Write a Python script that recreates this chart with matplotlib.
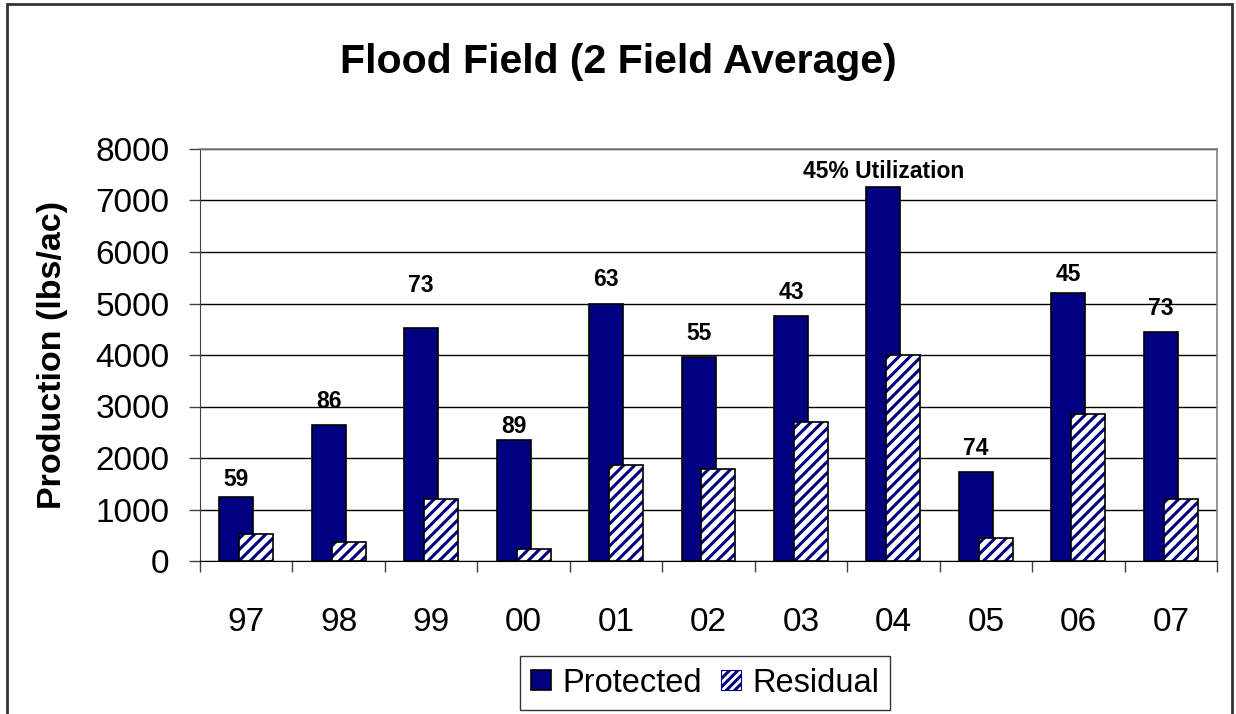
import matplotlib
matplotlib.use("Agg")
import matplotlib.pyplot as plt
import numpy as np
from matplotlib.patches import Rectangle

# ---- data ----
years = ["97", "98", "99", "00", "01", "02", "03", "04", "05", "06", "07"]
protected = [1240, 2650, 4520, 2345, 5000, 3960, 4760, 7270, 1720, 5210, 4445]
residual = [520, 375, 1205, 240, 1860, 1790, 2690, 4000, 440, 2855, 1205]
bar_labels = ["59", "86", "73", "89", "63", "55", "43", "45% Utilization", "74", "45", "73"]
title = "Flood Field (2 Field Average)"
ylabel = "Production (lbs/ac)"
yticks = [0, 1000, 2000, 3000, 4000, 5000, 6000, 7000, 8000]

plt.rcParams['font.family'] = ['Liberation Sans', 'DejaVu Sans']
plt.rcParams['hatch.linewidth'] = 2.2

W, H = 1236, 714
fig = plt.figure(figsize=(W / 100, H / 100), dpi=100)
ax = fig.add_axes([200 / W, (H - 561) / H, (1217 - 200) / W, (561 - 149) / H])

navy = '#000080'
x = np.arange(len(years))
bw = 0.368
off = 0.108
ax.set_axisbelow(True)
ax.yaxis.grid(True, color='black', linewidth=1.0)
bp = ax.bar(x - off, protected, width=bw, color=navy, edgecolor='black', linewidth=1.2,
            label='Protected', zorder=2)
# hatch in navy (hatch colour follows edgecolor), then black outline on top
ax.bar(x + off, residual, width=bw, color='white', edgecolor=navy, linewidth=0,
       hatch='///', zorder=3)
ax.bar(x + off, residual, width=bw, fill=False, edgecolor='black', linewidth=1.2, zorder=4)
br_handle = Rectangle((0, 0), 1, 1, facecolor='white', edgecolor=navy, hatch='////', linewidth=0.8)

# label offsets (pixels above bar top, to label centre)
label_off_px = [18, 23, 43, 14, 24, 24, 23, 15, 24, 18, 24]
for i, (v, lab) in enumerate(zip(protected, bar_labels)):
    ax.annotate(lab, xy=(x[i] - off, v), xytext=(0, label_off_px[i] * 0.72),
                textcoords='offset points', ha='center', va='center',
                fontsize=16.5, fontweight='bold', zorder=5)

ax.set_xlim(-0.5, len(years) - 0.5)
ax.set_ylim(0, 8000)
ax.set_yticks(yticks)
ax.set_yticklabels([str(t) for t in yticks], fontsize=24)
ax.tick_params(axis='y', direction='out', length=8, width=1, pad=14, color='#404040')

ax.set_xticks(np.arange(-0.5, len(years), 1.0))
ax.set_xticklabels([])
ax.set_xticks(x, minor=True)
ax.set_xticklabels(years, minor=True, fontsize=24)
ax.tick_params(axis='x', which='major', direction='out', length=8, width=1, color='#404040')
ax.tick_params(axis='x', which='minor', length=0, pad=33)

for s in ['top', 'right']:
    ax.spines[s].set_color('#808080')
    ax.spines[s].set_linewidth(1.2)
ax.spines['left'].set_color('#404040')
ax.spines['bottom'].set_color('black')

ax.set_ylabel(ylabel, fontsize=24.5, fontweight='bold', labelpad=20)

fig.text(0.5 + 0.0, (H - 62) / H, title, ha='center', va='center', fontsize=29.5, fontweight='bold')

leg = fig.legend(handles=[bp, br_handle], labels=['Protected', 'Residual'], loc='lower center',
                 bbox_to_anchor=(705 / W, 4 / H), ncol=2, fontsize=23.5, frameon=True,
                 fancybox=False, edgecolor='black', handlelength=0.6, handleheight=0.6,
                 handletextpad=0.35, columnspacing=0.6, borderpad=0.35, borderaxespad=0)
leg.get_frame().set_linewidth(1.0)

fig.patches.append(Rectangle((7 / W, -0.05), (1232 - 7) / W, (H - 4) / H + 0.05,
                             transform=fig.transFigure, fill=False, edgecolor='#333333',
                             linewidth=2, clip_on=False))

fig.savefig('out.png', dpi=100)
